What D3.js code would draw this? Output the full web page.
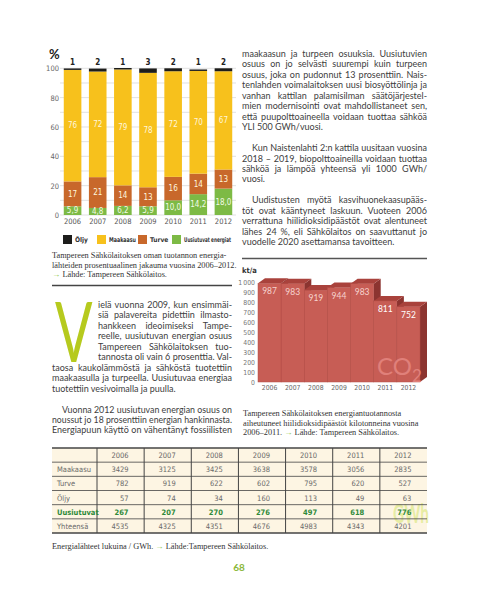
<!DOCTYPE html>
<html><head><meta charset="utf-8">
<script src="https://cdn.jsdelivr.net/npm/d3@7"></script>
<style>
html,body{margin:0;padding:0;background:#fff;}
svg{display:block;}
</style></head><body>
<svg id="page" width="500" height="601"></svg>
<script>
// ---------- DATA ----------
const years = ["2006","2007","2008","2009","2010","2011","2012"];
const oljyPct = [1,2,1,3,2,1,2];
const maakaasuPct = [76,72,79,78,72,70,67];
const turvePct = [17,21,14,13,16,14,13];
const uusiutuvatPct = [5.9,4.8,6.2,5.9,10.0,14.2,18.0];
const percentTicks = [0,20,40,60,80,100];
const legendLabels = ["Öljy","Maakaasu","Turve","Uusiutuvat energiat"];

const co2Values = [987,983,919,944,983,811,752];
const co2Ticks = [0,100,200,300,400,500,600,700,800,900,1000];

const tableRowNames = ["Maakaasu","Turve","Öljy","Uusiutuvat","Yhteensä"];
const gwhMaakaasu = [3429,3125,3425,3638,3578,3056,2835];
const gwhTurve = [782,919,622,602,795,620,527];
const gwhOljy = [57,74,34,160,113,49,63];
const gwhUusiutuvat = [267,207,270,276,497,618,776];
const gwhYhteensa = [4535,4325,4351,4676,4983,4343,4201];

// ---------- TEXT ----------
const J = (t, indent) => ({t, j:true, indent:indent||0});
const L = (t, indent) => ({t, j:false, indent:indent||0});
const rightColumn = [
  J("maakaasun ja turpeen osuuksia. Uusiutuvien"),
  J("osuus on jo selvästi suurempi kuin turpeen"),
  J("osuus, joka on pudonnut 13 prosenttiin. Nais-"),
  J("tenlahden voimalaitoksen uusi biosyöttölinja ja"),
  J("vanhan kattilan palamisilman säätöjärjestel-"),
  J("mien modernisointi ovat mahdollistaneet sen,"),
  J("että puupolttoaineella voidaan tuottaa sähköä"),
  L("YLI 500 GWh/vuosi."),
  null,
  J("Kun Naistenlahti 2:n kattila uusitaan vuosina", 10),
  J("2018 – 2019, biopolttoaineilla voidaan tuottaa"),
  J("sähköä ja lämpöä yhteensä yli 1000 GWh/"),
  L("vuosi."),
  null,
  J("Uudistusten myötä kasvihuonekaasupääs-", 10),
  J("töt ovat kääntyneet laskuun. Vuoteen 2006"),
  J("verrattuna hiilidioksidipäästöt ovat alentuneet"),
  J("lähes 24 %, eli Sähkölaitos on saavuttanut jo"),
  L("vuodelle 2020 asettamansa tavoitteen.")
];
const dropCapLines = [
  J("ielä vuonna 2009, kun ensimmäi-"),
  J("siä palavereita pidettiin ilmasto-"),
  J("hankkeen ideoimiseksi Tampe-"),
  J("reelle, uusiutuvan energian osuus"),
  J("Tampereen Sähkölaitoksen tuo-"),
  J("tannosta oli vain 6 prosenttia. Val-")
];
const leftColumn = [
  J("taosa kaukolämmöstä ja sähköstä tuotettiin"),
  J("maakaasulla ja turpeella. Uusiutuvaa energiaa"),
  L("tuotettiin vesivoimalla ja puulla."),
  null,
  J("Vuonna 2012 uusiutuvan energian osuus on", 10),
  J("noussut jo 18 prosenttiin energian hankinnasta."),
  J("Energiapuun käyttö on vähentänyt fossiilisten")
];

// ---------- SETUP ----------
const svg = d3.select("#page");
const BODY = "Lato, 'Open Sans', sans-serif";
const NARROW = "'Liberation Sans Narrow', 'DejaVu Sans Condensed', Roboto, sans-serif";
const SERIF = "'Liberation Serif', 'DejaVu Serif', serif";
const INK = "#404040";
const ARROW = "#8dc63f";
const loc = d3.formatLocale({decimal:",", thousands:"\u2009", grouping:[3], currency:["","€"]});
const fmtDec = loc.format(".1f");
const fmtThou = loc.format(",");

function fitText(t, w) {
  if (t.node().getComputedTextLength() > w) t.attr("textLength", w).attr("lengthAdjust", "spacingAndGlyphs");
}
function setLines(g, lines, o) {
  lines.forEach((ln, i) => {
    if (!ln) return;
    const x = o.x + ln.indent, w = o.width - ln.indent;
    const t = g.append("text").attr("x", x).attr("y", o.y + i * o.lh)
      .attr("font-family", o.font).attr("font-size", o.size)
      .attr("fill", o.fill).attr("font-weight", o.weight || 400)
      .text(ln.t);
    const nat = t.node().getComputedTextLength();
    const sp = (ln.t.match(/ /g) || []).length;
    if (ln.j) {
      if (nat > w || sp === 0) t.attr("textLength", w).attr("lengthAdjust", "spacingAndGlyphs");
      else t.style("word-spacing", ((w - nat) / sp) + "px");
    } else fitText(t, w);
  });
}

// ---------- STACKED BAR CHART ----------
const gS = svg.append("g");
const xS = d3.scaleBand().domain(years).range([60, 236]).paddingInner(0.3).paddingOuter(0.15);
const yS = d3.scaleLinear().domain([0, 100]).range([215, 68.3]);
const stackKeys = ["uusiutuvat", "turve", "maakaasu", "oljy"];
const colors = {oljy:"#1d1d1b", maakaasu:"#f7c11c", turve:"#c8682b", uusiutuvat:"#7dba45"};
const stackData = years.map((y, i) => ({year:y, uusiutuvat:uusiutuvatPct[i], turve:turvePct[i], maakaasu:maakaasuPct[i], oljy:oljyPct[i]}));
const series = d3.stack().keys(stackKeys)(stackData);

gS.append("text").attr("x", 49).attr("y", 59).attr("font-family", BODY)
  .attr("font-size", 13).attr("font-weight", 700).attr("fill", "#222").text("%");

gS.append("g").selectAll("line").data(yS.ticks(10)).join("line")
  .attr("x1", 60).attr("x2", 236).attr("y1", d => yS(d)).attr("y2", d => yS(d))
  .attr("stroke", "#d4d4d4").attr("stroke-width", 0.7);

const yAx = gS.append("g").attr("transform", "translate(59,0)")
  .call(d3.axisLeft(yS).tickValues(percentTicks).tickSize(0).tickPadding(0));
yAx.select(".domain").remove();
yAx.selectAll("text").attr("font-family", NARROW).attr("font-size", 7.5).attr("fill", "#666");

gS.append("g").selectAll("g").data(series).join("g")
  .attr("fill", s => colors[s.key])
  .selectAll("rect").data(s => s).join("rect")
  .attr("x", d => xS(d.data.year)).attr("width", xS.bandwidth())
  .attr("y", d => yS(d[1])).attr("height", d => yS(d[0]) - yS(d[1]));

series.filter(s => s.key !== "oljy").forEach(s => {
  gS.append("g").selectAll("text").data(s).join("text")
    .attr("x", d => xS(d.data.year) + xS.bandwidth() / 2)
    .attr("y", d => (yS(d[0]) + yS(d[1])) / 2).attr("dy", "0.35em")
    .attr("text-anchor", "middle").attr("font-family", NARROW).attr("font-size", 8)
    .attr("fill", s.key === "uusiutuvat" ? "#f2fbe6" : "#fff6dc")
    .text(d => s.key === "uusiutuvat" ? fmtDec(d.data[s.key]) : d.data[s.key]);
});
gS.append("g").selectAll("text").data(stackData).join("text")
  .attr("x", d => xS(d.year) + xS.bandwidth() / 2).attr("y", yS(100) - 3)
  .attr("text-anchor", "middle").attr("font-family", NARROW).attr("font-size", 8)
  .attr("font-weight", 700).attr("fill", "#222").text(d => d.oljy);

const xAx = gS.append("g").attr("transform", "translate(0,215)")
  .call(d3.axisBottom(xS).tickSize(0).tickPadding(4));
xAx.select(".domain").remove();
xAx.selectAll("text").attr("font-family", NARROW).attr("font-size", 7.5).attr("fill", "#555");

// legend (squares placed under the bars)
const legendKeys = ["oljy", "maakaasu", "turve", "uusiutuvat"];
const legendPos = [63, 97, 138, 172, 233];
const lg = gS.append("g").attr("transform", "translate(0,235)");
legendLabels.forEach((lab, i) => {
  const x = legendPos[i];
  lg.append("rect").attr("x", x).attr("y", 0).attr("width", 9).attr("height", 9).attr("fill", colors[legendKeys[i]]);
  const t = lg.append("text").attr("x", x + 12).attr("y", 7).attr("font-family", NARROW)
    .attr("font-size", 6.6).attr("font-weight", 700).attr("fill", "#333").text(lab);
  fitText(t, legendPos[i + 1] - x - 14);
});

const cap1 = svg.append("g").attr("font-family", SERIF).attr("font-size", 8.3).attr("fill", "#333");
cap1.append("text").attr("x", 52).attr("y", 258).text("Tampereen Sähkölaitoksen oman tuotannon energia-");
cap1.append("text").attr("x", 52).attr("y", 267.5).text("lähteiden prosentuaalinen jakauma vuosina 2006–2012.");
const c1 = cap1.append("text").attr("x", 52).attr("y", 277);
c1.append("tspan").attr("fill", ARROW).text("→ ");
c1.append("tspan").text("Lähde: Tampereen Sähkölaitos.");

svg.append("line").attr("x1", 52).attr("x2", 232).attr("y1", 285.5).attr("y2", 285.5)
  .attr("stroke", "#444").attr("stroke-width", 1.5);

// ---------- LEFT COLUMN TEXT ----------
svg.append("text").attr("transform", "translate(55,362) scale(0.66,1)")
  .attr("font-family", BODY).attr("font-size", 84).attr("fill", "#b6ca1e").text("V");
const bodyOpt = {font: BODY, size: 9, fill: INK, lh: 10.45};
setLines(svg.append("g"), dropCapLines, Object.assign({x: 98, y: 308, width: 134}, bodyOpt));
setLines(svg.append("g"), leftColumn, Object.assign({x: 52, y: 308 + 6 * 10.45, width: 180}, bodyOpt));

// ---------- RIGHT COLUMN TEXT ----------
setLines(svg.append("g"), rightColumn, Object.assign({x: 242, y: 57, width: 185}, bodyOpt));
svg.append("line").attr("x1", 242).attr("x2", 427).attr("y1", 258.5).attr("y2", 258.5)
  .attr("stroke", "#555").attr("stroke-width", 1.5);

// ---------- CO2 3D BAR CHART ----------
const gC = svg.append("g");
const xC = d3.scaleBand().domain(years).range([258, 420]).padding(0);
const yC = d3.scaleLinear().domain([0, 1000]).range([382, 282]);
const dX = 7, dY = 5;
gC.append("text").attr("x", 242).attr("y", 273).attr("font-family", NARROW)
  .attr("font-size", 7.5).attr("font-weight", 700).attr("fill", "#333").text("kt/a");
const yCAx = gC.append("g").attr("transform", "translate(255,0)")
  .call(d3.axisLeft(yC).tickValues(co2Ticks).tickSize(0).tickPadding(0).tickFormat(d => fmtThou(d)));
yCAx.select(".domain").remove();
yCAx.selectAll("text").attr("font-family", NARROW).attr("font-size", 6.8).attr("fill", "#777");

const co2Data = years.map((y, i) => ({year: y, v: co2Values[i]}));
const bars = gC.append("g").selectAll("g").data(co2Data).join("g");
bars.append("path").attr("fill", "#8c3430").attr("d", d => {
  const x1 = xC(d.year) + xC.bandwidth(), yt = yC(d.v), yb = yC(0);
  return `M${x1},${yt}L${x1 + dX},${yt - dY}L${x1 + dX},${yb - dY}L${x1},${yb}Z`;
});
bars.append("path").attr("fill", "#a9423c").attr("d", d => {
  const x0 = xC(d.year), x1 = x0 + xC.bandwidth(), yt = yC(d.v);
  return `M${x0},${yt}L${x0 + dX},${yt - dY}L${x1 + dX},${yt - dY}L${x1},${yt}Z`;
});
bars.append("rect").attr("x", d => xC(d.year)).attr("width", xC.bandwidth())
  .attr("y", d => yC(d.v)).attr("height", d => yC(0) - yC(d.v))
  .attr("fill", "#c75d55").attr("stroke", "#b24c45").attr("stroke-width", 0.5);
const co2t = gC.append("text").attr("x", 377).attr("y", 375).attr("font-family", BODY)
  .attr("fill", "#e0807a");
co2t.append("tspan").attr("font-size", 24).text("CO");
co2t.append("tspan").attr("font-size", 17).attr("dy", 7).text("2");
bars.append("text").attr("x", d => xC(d.year) + xC.bandwidth() / 2).attr("y", d => yC(d.v) + 11)
  .attr("text-anchor", "middle").attr("font-family", BODY).attr("font-size", 8.5)
  .attr("fill", (d, i) => i >= 5 ? "#ffffff" : "#f6d3ce").text(d => d.v);
const xCAx = gC.append("g").attr("transform", "translate(0,382)")
  .call(d3.axisBottom(xC).tickSize(0).tickPadding(3));
xCAx.select(".domain").remove();
xCAx.selectAll("text").attr("font-family", NARROW).attr("font-size", 6.8).attr("fill", "#666");

const cap2 = svg.append("g").attr("font-family", SERIF).attr("font-size", 8.3).attr("fill", "#333");
cap2.append("text").attr("x", 243).attr("y", 416).text("Tampereen Sähkölaitoksen energiantuotannosta");
cap2.append("text").attr("x", 243).attr("y", 425.5).text("aiheutuneet hiilidioksidipäästöt kilotonneina vuosina");
const c2 = cap2.append("text").attr("x", 243).attr("y", 435);
c2.append("tspan").text("2006–2011. ");
c2.append("tspan").attr("fill", ARROW).text("→ ");
c2.append("tspan").text("Lähde: Tampereen Sähkölaitos.");

// ---------- TABLE ----------
const gT = svg.append("g");
const tableValues = [gwhMaakaasu, gwhTurve, gwhOljy, gwhUusiutuvat, gwhYhteensa];
const colX = d3.scaleBand().domain(years).range([97, 427]);
const rowY = d3.scaleBand().domain(["head"].concat(tableRowNames)).range([448, 533]);
gT.append("rect").attr("x", 52).attr("y", 448).attr("width", 375).attr("height", 85).attr("fill", "#fdf5e3");
gT.append("text").attr("x", 393).attr("y", 523).attr("font-family", BODY).attr("font-weight", 700)
  .attr("font-size", 26).attr("fill", "#e3eb98").attr("fill-opacity", 0.85)
  .attr("textLength", 36).attr("lengthAdjust", "spacingAndGlyphs").text("GWh");
const hBounds = rowY.domain().map(d => rowY(d)).concat([533]);
gT.append("g").selectAll("line").data(hBounds).join("line")
  .attr("x1", 52).attr("x2", 427).attr("y1", d => d).attr("y2", d => d)
  .attr("stroke", "#444").attr("stroke-width", (d, i) => (i === 0 || i === hBounds.length - 1) ? 1.5 : 0.8);
gT.append("g").selectAll("line").data(years).join("line")
  .attr("x1", d => colX(d)).attr("x2", d => colX(d)).attr("y1", 448).attr("y2", 533)
  .attr("stroke", "#444").attr("stroke-width", 1);
const cellX = y => colX(y) + colX.bandwidth() / 2 + 8;
gT.append("g").selectAll("text").data(years).join("text")
  .attr("x", cellX).attr("y", rowY("head") + 10).attr("text-anchor", "end")
  .attr("font-family", NARROW).attr("font-size", 7.5).attr("fill", "#666").text(d => d);
tableRowNames.forEach((name, r) => {
  const green = name === "Uusiutuvat";
  const col = green ? "#2f8a3a" : "#6a6a6a";
  gT.append("text").attr("x", 57).attr("y", rowY(name) + 10).attr("font-family", NARROW)
    .attr("font-size", 7.5).attr("font-weight", green ? 700 : 400).attr("fill", col).text(name);
  gT.append("g").selectAll("text").data(tableValues[r]).join("text")
    .attr("x", (d, i) => cellX(years[i])).attr("y", rowY(name) + 10).attr("text-anchor", "end")
    .attr("font-family", NARROW).attr("font-size", 7.5).attr("font-weight", green ? 700 : 400)
    .attr("fill", col).text(d => d);
});

const ft = svg.append("text").attr("x", 52).attr("y", 549).attr("font-family", SERIF)
  .attr("font-size", 8.3).attr("fill", "#333");
ft.append("tspan").text("Energialähteet lukuina / GWh. ");
ft.append("tspan").attr("fill", ARROW).text("→ ");
ft.append("tspan").text("Lähde:Tampereen Sähkölaitos.");
svg.append("text").attr("x", 239).attr("y", 571).attr("text-anchor", "middle")
  .attr("font-family", BODY).attr("font-size", 10).attr("font-weight", 700).attr("fill", "#8ab83a").text("68");
</script>
</body></html>
